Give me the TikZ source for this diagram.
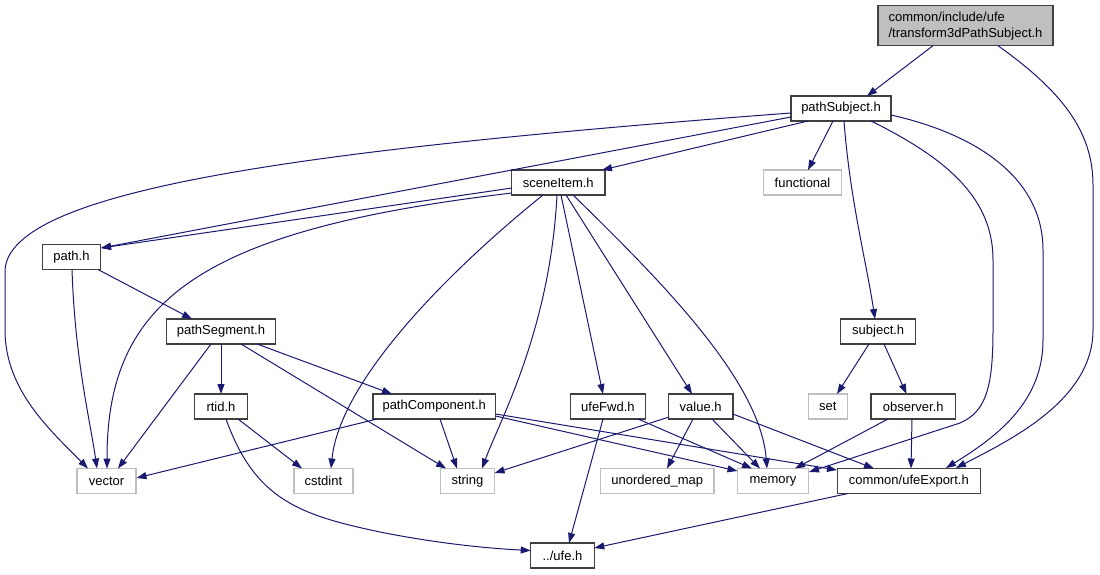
\documentclass[tikz,border=0pt]{standalone}
\usepackage{fontspec}
\setmainfont{Liberation Sans}
\usetikzlibrary{arrows.meta,calc}
\definecolor{edgeblue}{HTML}{191970}
\definecolor{projline}{HTML}{404040}
\definecolor{sysline}{HTML}{BFBFBF}
\definecolor{topfill}{HTML}{BFBFBF}
\tikzset{
  base/.style={rectangle, inner sep=0pt, minimum height=25pt, line width=1.3pt, fill=white,
    font=\fontsize{13}{16}\selectfont},
  proj/.style={base, draw=projline},
  sys/.style={base, draw=sysline},
  topnode/.style={base, draw=projline, fill=topfill, minimum height=40pt, align=left},
  dep/.style={draw=edgeblue, line width=1pt, -{Triangle[length=10pt,width=7pt]}}
}
\begin{document}
\begin{tikzpicture}[x=1pt,y=-1pt]
\useasboundingbox (0,0) rectangle (1100,575);
% nodes
\node[topnode, minimum width=175pt] (top) at (965.5,25.7) {common/include/ufe\\/transform3dPathSubject.h};
\node[proj, minimum width=100pt] (pS) at (841,108.5) {pathSubject.h};
\node[proj, minimum width=93.3pt] (sI) at (558.3,182.5) {sceneItem.h};
\node[sys, minimum width=78.4pt] (fn) at (802.5,182.5) {functional};
\node[proj, minimum width=58.4pt] (pa) at (71.5,257) {path.h};
\node[proj, minimum width=108.6pt] (pSeg) at (221,331.5) {pathSegment.h};
\node[proj, minimum width=75pt] (sub) at (878.2,331.5) {subject.h};
\node[proj, minimum width=52.6pt] (rt) at (221,406.5) {rtid.h};
\node[proj, minimum width=122.7pt] (pC) at (434.2,406.5) {pathComponent.h};
\node[proj, minimum width=75.5pt] (uF) at (607.9,406.5) {ufeFwd.h};
\node[proj, minimum width=64.3pt] (val) at (700.7,406.5) {value.h};
\node[sys, minimum width=39pt] (set) at (827.8,406.5) {set};
\node[proj, minimum width=84.7pt] (obs) at (913.3,406.5) {observer.h};
\node[sys, minimum width=59pt] (vec) at (106.5,481) {vector};
\node[sys, minimum width=59pt] (cst) at (323.4,481) {cstdint};
\node[sys, minimum width=54.4pt] (str) at (467.4,481) {string};
\node[sys, minimum width=113.2pt] (um) at (657.3,481) {unordered\_map};
\node[sys, minimum width=71pt] (mem) at (773,481) {memory};
\node[proj, minimum width=143.3pt] (uE) at (908.8,481) {common/ufeExport.h};
\node[proj, minimum width=63.6pt] (ufe) at (562.5,555.5) {../ufe.h};

% edges
\draw[dep] ($(top)+(-32.5,20)$) -- ($(pS)+(26,-12.5)$);
\draw[dep] ($(top)+(32.5,20)$) .. controls (1060,90) and (1093,130) .. (1093,185) -- (1093,330)
  .. controls (1093,400) and (1010,440) .. ($(uE)+(47.2,-13)$);
\draw[dep] ($(pS)+(-50,4.5)$) .. controls (300,150) and (10,190) .. (5,270) -- (5,330)
  .. controls (5,390) and (50,430) .. ($(vec)+(-18.5,-12.5)$);
\draw[dep] ($(pS)+(-50,8.5)$) -- ($(pa)+(29.5,-9)$);
\draw[dep] ($(pS)+(-33,12.5)$) -- ($(sI)+(43.7,-12.5)$);
\draw[dep] ($(pS)+(-8,12.5)$) -- ($(fn)+(5.5,-12.5)$);
\draw[dep] ($(pS)+(3,12.5)$) .. controls (850,200) and (866,260) .. ($(sub)+(-3.2,-12.5)$);
\draw[dep] ($(pS)+(30,12.5)$) .. controls (950,160) and (993,200) .. (993,260) -- (993,330)
  .. controls (993,390) and (985,412) .. (960,423) -- ($(mem)+(36,-9)$);
\draw[dep] ($(pS)+(50,6.5)$) .. controls (980,135) and (1043,180) .. (1043,250) -- (1043,340)
  .. controls (1043,400) and (1000,435) .. ($(uE)+(37.2,-13)$);

\draw[dep] ($(sI)+(-46.3,5.5)$) -- ($(pa)+(29.5,-9)$);
\draw[dep] ($(sI)+(-46.3,10.5)$) .. controls (200,230) and (107,300) .. ($(vec)+(0.5,-12.5)$);
\draw[dep] ($(sI)+(-15.3,12.5)$) .. controls (450,270) and (340,380) .. ($(cst)+(7.6,-12.5)$);
\draw[dep] ($(sI)+(-1.3,12.5)$) .. controls (550,330) and (500,420) .. ($(str)+(14.6,-12.5)$);
\draw[dep] ($(sI)+(2.7,12.5)$) -- ($(uF)+(-4.9,-12.5)$);
\draw[dep] ($(sI)+(7.7,12.5)$) -- ($(val)+(-8.7,-12.5)$);
\draw[dep] ($(sI)+(14.7,12.5)$) .. controls (660,280) and (760,380) .. ($(mem)+(-6,-12.5)$);

\draw[dep] ($(pa)+(0.5,12.5)$) .. controls (75,360) and (90,420) .. ($(vec)+(-9.5,-12.5)$);
\draw[dep] ($(pa)+(26.5,12.5)$) -- ($(pSeg)+(-29,-12.5)$);

\draw[dep] ($(pSeg)+(0,12.5)$) -- ($(rt)+(0,-12.5)$);
\draw[dep] ($(pSeg)+(36,12.5)$) -- ($(pC)+(-42.2,-12.5)$);
\draw[dep] ($(pSeg)+(-10,12.5)$) -- ($(vec)+(11.5,-12.5)$);
\draw[dep] ($(pSeg)+(20,12.5)$) -- ($(str)+(-21.4,-12.5)$);

\draw[dep] ($(rt)+(17,12.5)$) -- ($(cst)+(-21.4,-12.5)$);
\draw[dep] ($(rt)+(5,12.5)$) .. controls (255,500) and (300,515) .. (380,532)
  .. controls (430,542) and (480,548) .. ($(ufe)+(-31.8,-5)$);

\draw[dep] ($(pC)+(-57.2,12.5)$) -- ($(vec)+(30,-3)$);
\draw[dep] ($(pC)+(5.8,12.5)$) -- ($(str)+(-10.4,-12.5)$);
\draw[dep] ($(pC)+(61.4,9.5)$) -- ($(mem)+(-35.5,-10)$);
\draw[dep] ($(pC)+(61.4,7.5)$) -- ($(uE)+(-71.8,-11)$);

\draw[dep] ($(uF)+(-4.9,12.5)$) -- ($(ufe)+(6.5,-12.5)$);
\draw[dep] ($(uF)+(30.1,12.5)$) -- ($(mem)+(-21,-12.5)$);

\draw[dep] ($(val)+(-31.7,10.5)$) -- ($(str)+(27.2,-8)$);
\draw[dep] ($(val)+(-7.7,12.5)$) -- ($(um)+(9.7,-12.5)$);
\draw[dep] ($(val)+(11.3,12.5)$) -- ($(mem)+(-13,-12.5)$);
\draw[dep] ($(val)+(32.2,7.5)$) -- ($(uE)+(-34.8,-12.5)$);

\draw[dep] ($(sub)+(-9.2,12.5)$) -- ($(set)+(9.2,-12.5)$);
\draw[dep] ($(sub)+(5.8,12.5)$) -- ($(obs)+(-6.8,-12.5)$);

\draw[dep] ($(obs)+(-25.3,12.5)$) -- ($(mem)+(22,-12.5)$);
\draw[dep] ($(obs)+(-1.3,12.5)$) -- ($(uE)+(2.2,-12.5)$);

\draw[dep] ($(uE)+(-60.8,12.5)$) -- ($(ufe)+(31.8,-7.5)$);
\end{tikzpicture}
\end{document}
